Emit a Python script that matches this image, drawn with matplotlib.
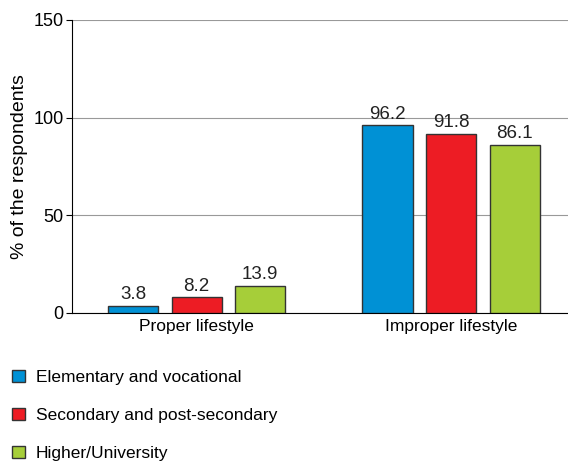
import matplotlib.pyplot as plt
from matplotlib.patches import Patch
import numpy as np

# data
categories = ["Proper lifestyle", "Improper lifestyle"]
groups = ["Elementary and vocational", "Secondary and post-secondary", "Higher/University"]
elementary = [3.8, 96.2]
secondary = [8.2, 91.8]
higher = [13.9, 86.1]
colors = ["#0091d5", "#ed1c24", "#a6ce39"]

plt.rcParams['font.family'] = ['Liberation Sans Narrow', 'Liberation Sans', 'DejaVu Sans']

fig = plt.figure(figsize=(5.68, 4.63), dpi=100)
ax = fig.add_axes([0.127, 0.324, 0.873, 0.633])

x = np.arange(len(categories))
width = 0.197
offsets = [-0.25, 0, 0.25]
for vals, off, col in zip([elementary, secondary, higher], offsets, colors):
    bars = ax.bar(x + off, vals, width, color=col, edgecolor="#333333", linewidth=1, zorder=3)
    for b, v in zip(bars, vals):
        ax.text(b.get_x() + b.get_width() / 2, v + 1.2, f"{v}", ha="center", va="bottom",
                fontsize=13.5, color="#222222")

ax.set_ylim(0, 150)
ax.set_xlim(-0.49, 1.46)
ax.set_yticks([0, 50, 100, 150])
ax.set_xticks(x)
ax.set_xticklabels(categories, fontsize=12.5)
ax.tick_params(axis="x", length=0, pad=4)
ax.tick_params(axis="y", labelsize=13, length=4, pad=2)
ax.yaxis.grid(True, color="#999999", linewidth=0.8, zorder=0)
ax.set_ylabel("% of the respondents", fontsize=14, labelpad=4)
for s in ["top", "right"]:
    ax.spines[s].set_visible(False)

handles = [Patch(facecolor=c, edgecolor="#333333", linewidth=1) for c in colors]
fig.legend(handles, groups, loc="upper left", bbox_to_anchor=(0.0, 0.228), frameon=False,
           fontsize=12.5, handlelength=0.75, handleheight=0.75, handletextpad=0.6,
           labelspacing=1.3, borderaxespad=0.3)

plt.savefig("out.png", dpi=100)
